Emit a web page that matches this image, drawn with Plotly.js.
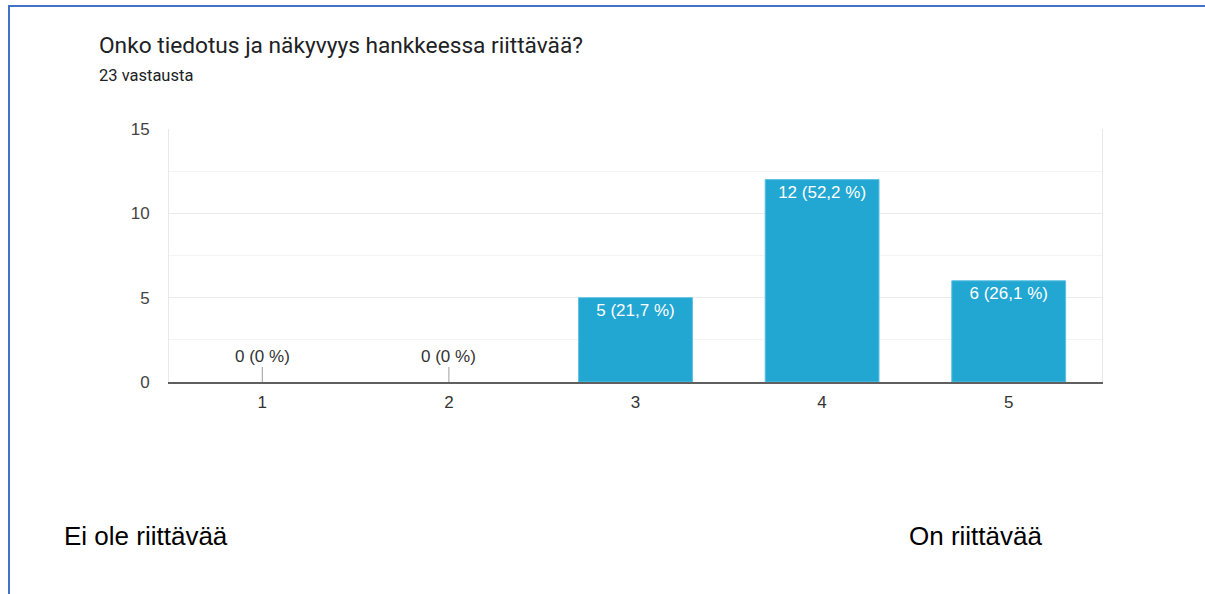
<!DOCTYPE html>
<html>
<head>
<meta charset="utf-8">
<script src="https://cdn.plot.ly/plotly-3.0.1.min.js"></script>
<style>
  html, body { margin: 0; padding: 0; background: #fff; }
  #chart { width: 1205px; height: 594px; position: relative; }
  .frame-top { position: absolute; left: 8px; top: 5px; width: 1197px; height: 2px; background: #4472C4; z-index: 10; }
  .frame-left { position: absolute; left: 8px; top: 5px; width: 2px; height: 589px; background: #4472C4; z-index: 10; }
</style>
</head>
<body>
<div id="chart"></div>
<div class="frame-top"></div>
<div class="frame-left"></div>
<script>
const chartTitle = 'Onko tiedotus ja näkyvyys hankkeessa riittävää?';
const responseNote = '23 vastausta';
const categories = ['1', '2', '3', '4', '5'];
const counts = [0, 0, 5, 12, 6];
const percentLabels = ['0 %', '0 %', '21,7 %', '52,2 %', '26,1 %'];
const lowLabel = 'Ei ole riittävää';
const highLabel = 'On riittävää';
const yTicks = [0, 5, 10, 15];

const barLabels = counts.map((c, i) => c + ' (' + percentLabels[i] + ')');
const chartFont = 'Liberation Sans, Arial, Helvetica, sans-serif';

const trace = {
  type: 'bar',
  x: categories,
  y: counts,
  text: barLabels,
  textposition: counts.map(c => c > 0 ? 'inside' : 'none'),
  insidetextanchor: 'end',
  textangle: 0,
  textfont: { family: chartFont, size: 17, color: '#ffffff' },
  marker: { color: '#22a6d2', line: { color: '#5cc0e2', width: counts.map(c => c > 0 ? 1 : 0) } },
  width: 0.61,
  hoverinfo: 'none'
};

const annotations = [];
counts.forEach((c, i) => {
  if (c === 0) {
    annotations.push({
      x: i, y: c, xref: 'x', yref: 'y',
      text: barLabels[i],
      showarrow: true, arrowhead: 0, arrowwidth: 1, arrowcolor: '#9e9e9e',
      ax: 0, ay: -26,
      font: { family: chartFont, size: 17, color: '#333333' }
    });
  }
});
annotations.push({
  text: responseNote, xref: 'paper', yref: 'paper',
  x: -0.0775, y: 1.21, xanchor: 'left', yanchor: 'middle', showarrow: false,
  font: { family: 'Roboto, Arial, sans-serif', size: 16.5, color: '#202124' }
});
annotations.push({
  text: lowLabel, xref: 'paper', yref: 'paper',
  x: -0.115, y: -0.609, xanchor: 'left', yanchor: 'middle', showarrow: false,
  font: { family: 'Liberation Sans, Arial, sans-serif', size: 26, color: '#000000' }
});
annotations.push({
  text: highLabel, xref: 'paper', yref: 'paper',
  x: 0.791, y: -0.609, xanchor: 'left', yanchor: 'middle', showarrow: false,
  font: { family: 'Liberation Sans, Arial, sans-serif', size: 26, color: '#000000' }
});

const layout = {
  width: 1205, height: 594,
  margin: { l: 169, r: 103, t: 129, b: 212 },
  paper_bgcolor: '#ffffff', plot_bgcolor: '#ffffff',
  showlegend: false,
  title: {
    text: chartTitle, xref: 'container', yref: 'container',
    x: 99 / 1205, xanchor: 'left', y: 1 - 45 / 594, yanchor: 'middle',
    font: { family: 'Roboto, Arial, sans-serif', size: 22.7, color: '#202124' }
  },
  xaxis: {
    type: 'category',
    showgrid: false, zeroline: false,
    showline: true, linecolor: '#5f5f5f', linewidth: 2,
    ticks: '', ticklabelstandoff: 4,
    tickfont: { family: chartFont, size: 17, color: '#333333' },
    fixedrange: true
  },
  yaxis: {
    range: [0, 15],
    tickvals: yTicks,
    showgrid: true, gridcolor: '#ebebeb', gridwidth: 1,
    minor: { dtick: 2.5, showgrid: true, gridcolor: '#f4f4f4', gridwidth: 1, ticks: '' },
    zeroline: false,
    showline: true, mirror: true, linecolor: '#e8e8e8', linewidth: 1,
    ticks: '', ticklabelstandoff: 15,
    tickfont: { family: chartFont, size: 17, color: '#444444' },
    fixedrange: true
  },
  annotations: annotations
};

Plotly.newPlot('chart', [trace], layout, { displayModeBar: false, staticPlot: true });
</script>
</body>
</html>
